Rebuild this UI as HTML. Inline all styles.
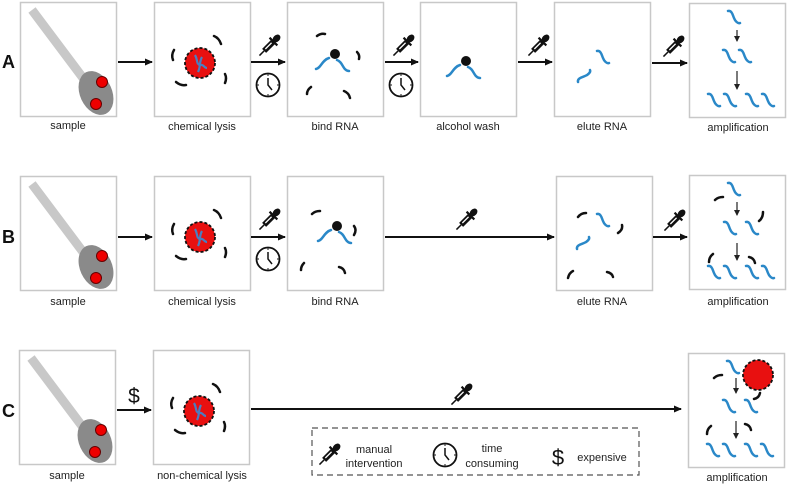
<!DOCTYPE html>
<html><head><meta charset="utf-8"><style>
html,body{margin:0;padding:0;background:#fff;}
svg{display:block;}
text{font-family:"Liberation Sans",sans-serif;font-size:11px;fill:#222;}
</style></head><body>
<svg width="789" height="484" viewBox="0 0 789 484" xmlns="http://www.w3.org/2000/svg">
<defs>
<marker id="ah" markerWidth="8" markerHeight="8" refX="7" refY="4" orient="auto" markerUnits="userSpaceOnUse"><path d="M0,0.5 L8,4 L0,7.5z" fill="#111"/></marker>
<marker id="ahs" markerWidth="6" markerHeight="6" refX="5" refY="3" orient="auto" markerUnits="userSpaceOnUse"><path d="M0,0 L6,3 L0,6z" fill="#222"/></marker>
<g id="swab">
<line x1="12" y1="8" x2="66" y2="80" stroke="#c8c8c8" stroke-width="9"/>
<ellipse cx="76" cy="91" rx="16" ry="23" transform="rotate(-25 76 91)" fill="#8a8a8a"/>
<circle cx="82" cy="80" r="5.5" fill="#e00" stroke="#600" stroke-width="1"/>
<circle cx="76" cy="102" r="5.5" fill="#e00" stroke="#600" stroke-width="1"/>
</g>
<g id="cell">
<circle cx="46" cy="61" r="15" fill="#e81010" stroke="#111" stroke-width="1.8" stroke-dasharray="3,2"/>
<path d="M41,53 C44,58 42,62 46,63 M48,55 C45,60 47,64 44,70 M46,63 C50,62 50,66 53,66" fill="none" stroke="#4a7ec0" stroke-width="2.2"/>
<g fill="none" stroke="#111" stroke-width="2.5" stroke-linecap="round">
<path d="M60,34 Q65,36 67,42"/>
<path d="M20,48 Q17,53 19,58"/>
<path d="M22,80 Q27,84 32,83"/>
<path d="M71,72 Q73,76 71,81"/>
</g>
</g>
<path id="rna" d="M0,0 C4,-1 5,5 6,7 C7,10 10,13 12,12" fill="none" stroke="#2a88c8" stroke-width="2.5" stroke-linecap="round"/>
<g id="dropper">
<g transform="translate(11,11) rotate(45) scale(1.1)">
<ellipse cx="0" cy="-11" rx="3" ry="4" fill="#111"/>
<line x1="-5" y1="-7" x2="5" y2="-7" stroke="#111" stroke-width="2"/>
<rect x="-2.6" y="-7" width="5.2" height="12" fill="#111"/>
<rect x="-1" y="-5" width="1.2" height="8" fill="#fff"/>
<line x1="0" y1="5" x2="0" y2="11" stroke="#111" stroke-width="1.4"/>
</g>
</g>
<g id="clock">
<circle cx="0" cy="0" r="11.5" fill="#fff" stroke="#111" stroke-width="1.8"/>
<path d="M0,-7 L0,0 L4,5" fill="none" stroke="#111" stroke-width="1.5"/>
<path d="M0,-10.5V-9M0,9V10.5M-10.5,0H-9M9,0H10.5" stroke="#111" stroke-width="1"/>
</g>
<g id="box"><rect x="0.5" y="0.5" width="96" height="114" fill="#fff" stroke="#c8c8c8" stroke-width="1.5"/></g>
<g id="bind">
<path d="M29,67 C34,66 35,58 42,56 M50,58 C56,60 56,69 62,69" fill="none" stroke="#2a88c8" stroke-width="2.5" stroke-linecap="round"/>
<circle cx="48" cy="52" r="5" fill="#111"/>
</g>
</defs>

<text x="2" y="68" style="font-size:18px;font-weight:bold;fill:#111">A</text>
<text x="2" y="243" style="font-size:18px;font-weight:bold;fill:#111">B</text>
<text x="2" y="417" style="font-size:18px;font-weight:bold;fill:#111">C</text>

<!-- ROW A -->
<use href="#box" x="20" y="2"/><use href="#swab" x="20" y="2"/>
<use href="#box" x="154" y="2"/><use href="#cell" x="154" y="2"/>
<use href="#box" x="287" y="2"/>
<g transform="translate(287,2)">
<use href="#bind"/>
<path d="M30,34 Q34,31 38,32 M70,50 Q73,53 72,57 M20,92 Q20,88 24,85 M57,89 Q62,91 63,96" fill="none" stroke="#111" stroke-width="2.5" stroke-linecap="round"/>
</g>
<use href="#box" x="420" y="2"/>
<g transform="translate(420,2)"><use href="#bind" x="-2" y="7"/></g>
<use href="#box" x="554" y="2"/>
<use href="#rna" x="597" y="51"/>
<use href="#rna" transform="translate(578,82) rotate(-90)"/>
<use href="#box" x="689" y="3"/>
<g transform="translate(689,3)">
<use href="#rna" x="39" y="8"/>
<line x1="48" y1="27" x2="48" y2="38" stroke="#222" stroke-width="1.2" marker-end="url(#ahs)"/>
<use href="#rna" x="34" y="47"/><use href="#rna" x="50" y="47"/>
<line x1="48" y1="68" x2="48" y2="86" stroke="#222" stroke-width="1.2" marker-end="url(#ahs)"/>
<use href="#rna" x="19" y="91"/><use href="#rna" x="35" y="91"/><use href="#rna" x="57" y="91"/><use href="#rna" x="73" y="91"/>
</g>
<text x="68" y="129" text-anchor="middle">sample</text>
<text x="202" y="130" text-anchor="middle">chemical lysis</text>
<text x="335" y="130" text-anchor="middle">bind RNA</text>
<text x="468" y="130" text-anchor="middle">alcohol wash</text>
<text x="602" y="130" text-anchor="middle">elute RNA</text>
<text x="738" y="131" text-anchor="middle">amplification</text>
<g stroke="#111" stroke-width="2" marker-end="url(#ah)">
<line x1="118" y1="62" x2="152" y2="62"/>
<line x1="251" y1="62" x2="285" y2="62"/>
<line x1="385" y1="62" x2="418" y2="62"/>
<line x1="518" y1="62" x2="552" y2="62"/>
<line x1="652" y1="63" x2="687" y2="63"/>
</g>
<use href="#dropper" x="257" y="36"/><use href="#clock" x="268" y="85"/>
<use href="#dropper" x="391" y="36"/><use href="#clock" x="401" y="85"/>
<use href="#dropper" x="526" y="36"/>
<use href="#dropper" x="661" y="37"/>

<!-- ROW B -->
<use href="#box" x="20" y="176"/><use href="#swab" x="20" y="176"/>
<use href="#box" x="154" y="176"/><use href="#cell" x="154" y="176"/>
<use href="#box" x="287" y="176"/>
<g transform="translate(287,176)">
<use href="#bind" x="2" y="-2"/>
<path d="M25,38 Q28,35 33,35 M67,50 Q70,54 67,59 M14,94 Q14,90 17,87 M52,91 Q57,92 58,97" fill="none" stroke="#111" stroke-width="2.5" stroke-linecap="round"/>
</g>
<use href="#box" x="556" y="176"/>
<g transform="translate(556,176)">
<use href="#rna" x="41" y="38"/>
<use href="#rna" transform="translate(21,73) rotate(-90)"/>
<path d="M22,41 Q25,37 30,37 M66,49 Q67,54 62,57 M12,102 Q13,97 17,95 M51,96 Q56,97 57,101" fill="none" stroke="#111" stroke-width="2.5" stroke-linecap="round"/>
</g>
<use href="#box" x="689" y="175"/>
<g transform="translate(689,175)">
<use href="#rna" x="39" y="8"/>
<path d="M26,25 Q29,22 34,22 M74,37 Q74,43 70,46 M20,87 Q20,82 24,79 M60,82 Q65,83 66,88" fill="none" stroke="#111" stroke-width="2.5" stroke-linecap="round"/>
<line x1="48" y1="27" x2="48" y2="40" stroke="#222" stroke-width="1.2" marker-end="url(#ahs)"/>
<use href="#rna" x="35" y="47"/><use href="#rna" x="57" y="47"/>
<line x1="48" y1="68" x2="48" y2="85" stroke="#222" stroke-width="1.2" marker-end="url(#ahs)"/>
<use href="#rna" x="19" y="91"/><use href="#rna" x="35" y="91"/><use href="#rna" x="57" y="91"/><use href="#rna" x="73" y="91"/>
</g>
<text x="68" y="305" text-anchor="middle">sample</text>
<text x="202" y="305" text-anchor="middle">chemical lysis</text>
<text x="335" y="305" text-anchor="middle">bind RNA</text>
<text x="602" y="305" text-anchor="middle">elute RNA</text>
<text x="738" y="305" text-anchor="middle">amplification</text>
<g stroke="#111" stroke-width="2" marker-end="url(#ah)">
<line x1="118" y1="237" x2="152" y2="237"/>
<line x1="251" y1="237" x2="285" y2="237"/>
<line x1="385" y1="237" x2="554" y2="237"/>
<line x1="653" y1="237" x2="687" y2="237"/>
</g>
<use href="#dropper" x="257" y="210"/><use href="#clock" x="268" y="259"/>
<use href="#dropper" x="454" y="210"/>
<use href="#dropper" x="662" y="211"/>

<!-- ROW C -->
<use href="#box" x="19" y="350"/><use href="#swab" x="19" y="350"/>
<use href="#box" x="153" y="350"/><use href="#cell" x="153" y="350"/>
<use href="#box" x="688" y="353"/>
<g transform="translate(688,353)">
<use href="#rna" x="39" y="8"/>
<path d="M26,25 Q29,22 34,22 M19,81 Q19,76 23,73 M57,71 Q62,72 63,77" fill="none" stroke="#111" stroke-width="2.5" stroke-linecap="round"/>
<circle cx="70" cy="22" r="15" fill="#e81010" stroke="#111" stroke-width="1.8" stroke-dasharray="3,2"/>
<path d="M66,46 Q71,45 72,40" fill="none" stroke="#111" stroke-width="2.5" stroke-linecap="round"/>
<line x1="48" y1="25" x2="48" y2="40" stroke="#222" stroke-width="1.2" marker-end="url(#ahs)"/>
<use href="#rna" x="35" y="47"/><use href="#rna" x="57" y="47"/>
<line x1="48" y1="68" x2="48" y2="85" stroke="#222" stroke-width="1.2" marker-end="url(#ahs)"/>
<use href="#rna" x="19" y="91"/><use href="#rna" x="35" y="91"/><use href="#rna" x="57" y="91"/><use href="#rna" x="73" y="91"/>
</g>
<text x="67" y="479" text-anchor="middle">sample</text>
<text x="202" y="479" text-anchor="middle">non-chemical lysis</text>
<text x="737" y="481" text-anchor="middle">amplification</text>
<g stroke="#111" stroke-width="2" marker-end="url(#ah)">
<line x1="117" y1="410" x2="151" y2="410"/>
<line x1="251" y1="409" x2="681" y2="409"/>
</g>
<text x="134" y="403" text-anchor="middle" style="font-size:21px;fill:#111">$</text>
<use href="#dropper" x="449" y="385"/>

<!-- Legend -->
<rect x="312" y="428" width="327" height="47" fill="none" stroke="#555" stroke-width="1.2" stroke-dasharray="6,4"/>
<use href="#dropper" x="317" y="445"/>
<text x="374" y="453" text-anchor="middle">manual</text>
<text x="374" y="467" text-anchor="middle">intervention</text>
<use href="#clock" x="445" y="455"/>
<text x="492" y="452" text-anchor="middle">time</text>
<text x="492" y="467" text-anchor="middle">consuming</text>
<text x="558" y="465" text-anchor="middle" style="font-size:22px;fill:#111">$</text>
<text x="602" y="461" text-anchor="middle">expensive</text>
</svg>
</body></html>
